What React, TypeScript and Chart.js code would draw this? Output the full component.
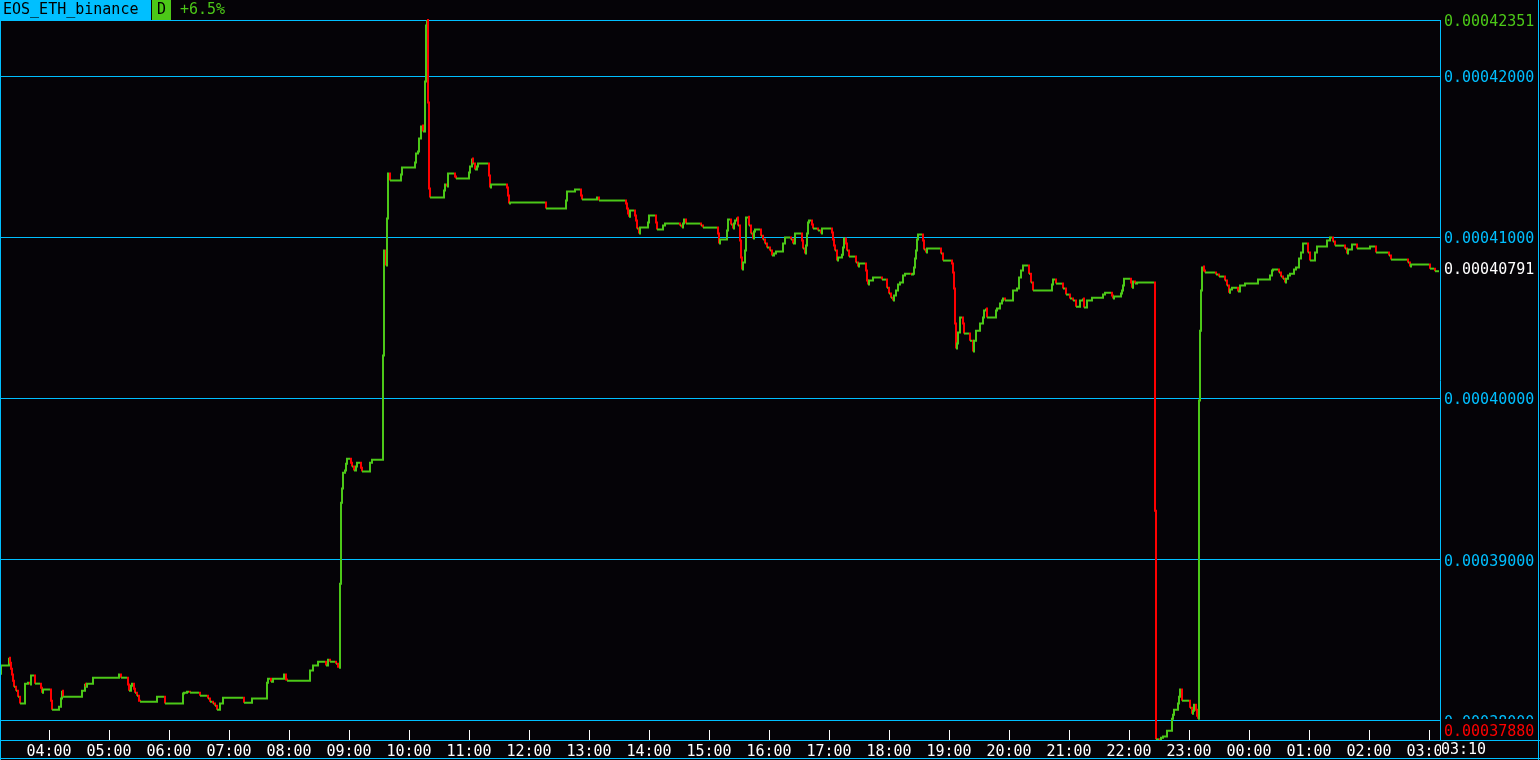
import { useEffect, useRef } from 'react';
import { Chart, registerables } from 'chart.js';

Chart.register(...registerables);

// ---- data -----------------------------------------------------------------
const symbol = 'EOS_ETH_binance';
const timeframe = 'D';
// minute index 0 = 03:11 (one-minute steps, 24h window)
const startMinuteOfDay = 3 * 60 + 11;

// [minute index, price] at each price change
const pricesEarly: [number, number][] = [
  [0, 0.00038292], [1, 0.00038342], [9, 0.00038391], [10, 0.0003836], [11, 0.00038323],
  [12, 0.00038286], [13, 0.00038248], [14, 0.00038211], [16, 0.00038186], [18, 0.00038149],
  [20, 0.00038106], [25, 0.0003823], [28, 0.00038236], [30, 0.00038224], [31, 0.0003828],
  [35, 0.0003823], [41, 0.00038205], [42, 0.00038174], [43, 0.00038193], [51, 0.00038124],
  [52, 0.00038068], [59, 0.00038087], [61, 0.00038137], [62, 0.00038186], [63, 0.00038149],
  [82, 0.00038186], [85, 0.0003823], [86, 0.00038211], [87, 0.0003823], [93, 0.00038267],
  [119, 0.00038286], [121, 0.00038267], [128, 0.00038224], [129, 0.00038186], [131, 0.00038217],
  [132, 0.0003823], [134, 0.00038199], [135, 0.00038174], [137, 0.00038155], [139, 0.00038124],
  [140, 0.00038118], [157, 0.00038149], [165, 0.00038106], [183, 0.00038168], [184, 0.00038174],
  [187, 0.0003818], [190, 0.00038174], [200, 0.00038155], [208, 0.00038137], [210, 0.00038118],
  [213, 0.00038106], [215, 0.00038093], [217, 0.00038068], [220, 0.00038106], [223, 0.00038143],
  [244, 0.00038112], [252, 0.00038137], [267, 0.00038236], [268, 0.00038261], [271, 0.00038242],
  [273, 0.00038261], [284, 0.00038286], [286, 0.00038255], [287, 0.00038248], [310, 0.00038311],
  [313, 0.00038342], [318, 0.00038366], [326, 0.00038342], [328, 0.00038379], [330, 0.00038366],
  [336, 0.00038354], [338, 0.00038335], [339, 0.00038329],
];

const pricesRally: [number, number][] = [
  [340, 0.00038851], [341, 0.00039354], [342, 0.00039441], [343, 0.0003954], [345, 0.00039553],
  [346, 0.00039596], [347, 0.00039627], [351, 0.00039602], [352, 0.00039578], [354, 0.00039553],
  [356, 0.00039578], [357, 0.00039602], [361, 0.00039571], [362, 0.00039547], [370, 0.00039602],
  [372, 0.00039621], [383, 0.00040267], [384, 0.00040919], [386, 0.00040826], [387, 0.00041118],
  [388, 0.00041398], [390, 0.00041354], [401, 0.00041391], [402, 0.00041435], [415, 0.00041466],
  [416, 0.00041522], [418, 0.00041534], [419, 0.00041615], [421, 0.0004169], [422, 0.00041696],
  [423, 0.00041658], [425, 0.00041969], [426, 0.00042317], [427, 0.00042351], [428, 0.00041839],
  [429, 0.00041304], [430, 0.00041249], [444, 0.00041292], [445, 0.00041329], [447, 0.00041317],
  [448, 0.00041398], [455, 0.00041379], [456, 0.00041367], [469, 0.00041404], [470, 0.00041441],
  [472, 0.00041491], [473, 0.0004146], [475, 0.00041422], [477, 0.00041441], [478, 0.0004146],
  [489, 0.00041385], [490, 0.00041311], [491, 0.00041329], [507, 0.00041311], [508, 0.00041261],
  [509, 0.00041211], [510, 0.00041217],
];

const pricesMidday: [number, number][] = [
  [546, 0.0004118], [566, 0.0004123], [567, 0.00041286], [575, 0.00041298], [581, 0.00041261],
  [582, 0.00041236], [597, 0.00041249], [599, 0.0004123], [626, 0.00041211], [627, 0.0004118],
  [628, 0.00041149], [629, 0.0004113], [630, 0.00041168], [635, 0.00041137], [636, 0.00041106],
  [637, 0.00041056], [639, 0.00041025], [640, 0.00041062], [648, 0.00041093], [649, 0.00041137],
  [656, 0.00041093], [657, 0.0004105], [663, 0.00041075], [665, 0.00041087], [680, 0.00041075],
  [682, 0.00041062], [683, 0.00041087], [684, 0.00041112], [686, 0.00041087], [701, 0.00041075],
  [703, 0.00041062], [718, 0.00041025], [719, 0.00040963], [720, 0.00040988], [727, 0.00041044],
  [728, 0.00041112], [731, 0.00041081], [733, 0.00041056], [734, 0.00041087], [735, 0.00041106],
  [737, 0.00041124], [738, 0.00041075], [740, 0.00040981], [741, 0.00040876], [742, 0.00040801],
  [743, 0.00040845], [745, 0.00040919], [746, 0.00041124], [748, 0.0004113], [749, 0.00041075],
  [751, 0.00041025], [753, 0.00040994], [754, 0.00041037], [755, 0.0004105], [761, 0.00041012],
  [763, 0.00040988], [765, 0.00040963], [767, 0.00040938], [770, 0.00040919], [772, 0.00040888],
  [774, 0.00040901], [776, 0.00040913], [783, 0.00040963], [785, 0.00041], [791, 0.00040988],
  [793, 0.00040963], [795, 0.00041025], [802, 0.00040981], [803, 0.00040932], [805, 0.00040901],
  [806, 0.0004095], [807, 0.00041025], [808, 0.00041093], [809, 0.00041106], [812, 0.00041081],
  [813, 0.00041056], [818, 0.00041044], [821, 0.00041025], [822, 0.00041056], [832, 0.00041031],
  [833, 0.00040988], [834, 0.0004095], [835, 0.00040919], [837, 0.00040857], [838, 0.00040876],
  [842, 0.00040894], [843, 0.00040938], [844, 0.00040994], [846, 0.00040963], [847, 0.00040919],
  [849, 0.00040882], [856, 0.00040845], [858, 0.0004082], [859, 0.00040839], [866, 0.00040795],
  [867, 0.00040733], [868, 0.00040708], [869, 0.00040733], [873, 0.00040752], [882, 0.00040739],
  [887, 0.00040689], [889, 0.00040652], [891, 0.00040627], [893, 0.00040609], [894, 0.0004064],
  [896, 0.00040671], [898, 0.00040708], [900, 0.00040721], [903, 0.00040764], [905, 0.00040776],
  [911, 0.0004077], [913, 0.00040776], [914, 0.00040814], [915, 0.0004087], [916, 0.00040919],
  [917, 0.00040988], [918, 0.00041019], [923, 0.00040981], [924, 0.00040926], [926, 0.00040907],
  [927, 0.00040932], [941, 0.00040901], [943, 0.00040857],
];

const pricesEvening: [number, number][] = [
  [952, 0.00040839], [953, 0.00040783], [954, 0.00040683], [955, 0.00040466], [956, 0.00040311],
  [957, 0.00040342], [958, 0.0004041], [960, 0.00040503], [963, 0.00040466], [964, 0.00040404],
  [970, 0.0004036], [973, 0.00040292], [974, 0.0004036], [976, 0.00040422], [980, 0.00040466],
  [983, 0.00040503], [984, 0.00040547], [986, 0.00040559], [987, 0.00040503], [996, 0.00040547],
  [997, 0.00040559], [1000, 0.0004059], [1002, 0.00040609], [1003, 0.00040621], [1005, 0.00040609],
  [1013, 0.00040671], [1017, 0.00040683], [1019, 0.00040752], [1021, 0.00040795], [1023, 0.00040826],
  [1029, 0.00040776], [1031, 0.00040721], [1033, 0.00040671], [1052, 0.00040708], [1053, 0.00040739],
  [1056, 0.00040714], [1063, 0.00040683], [1066, 0.00040646], [1070, 0.00040621], [1073, 0.00040609],
  [1076, 0.00040571], [1080, 0.00040609], [1083, 0.00040621], [1084, 0.00040565], [1087, 0.00040609],
  [1092, 0.00040627], [1103, 0.00040646], [1105, 0.00040658], [1112, 0.0004064], [1113, 0.00040621],
  [1114, 0.00040634], [1121, 0.00040652], [1122, 0.00040671], [1123, 0.00040702], [1124, 0.00040745],
  [1131, 0.00040721], [1132, 0.00040689], [1133, 0.00040727], [1135, 0.00040714], [1137, 0.00040721],
];

const pricesCrash: [number, number][] = [
  [1155, 0.00039304], [1156, 0.00037884], [1160, 0.0003788], [1161, 0.00037894], [1163, 0.00037901],
  [1167, 0.00037938], [1172, 0.00038012], [1173, 0.00038037], [1174, 0.00038068], [1178, 0.00038106],
  [1179, 0.00038149], [1180, 0.00038193], [1182, 0.00038124], [1190, 0.00038081], [1192, 0.00038043],
  [1193, 0.00038062], [1194, 0.00038099], [1196, 0.00038068], [1197, 0.00038031], [1198, 0.00038012],
  [1199, 0.00039988], [1200, 0.00040422], [1201, 0.00040671], [1202, 0.00040814], [1203, 0.0004082],
];

const pricesNight: [number, number][] = [
  [1204, 0.00040795], [1205, 0.00040783], [1216, 0.0004077], [1219, 0.00040758], [1225, 0.00040733],
  [1227, 0.00040702], [1229, 0.00040658], [1230, 0.00040677], [1232, 0.00040689], [1238, 0.00040665],
  [1240, 0.00040702], [1245, 0.00040714], [1258, 0.00040739], [1270, 0.00040764], [1272, 0.00040795],
  [1273, 0.00040801], [1279, 0.00040783], [1281, 0.00040758], [1283, 0.00040745], [1285, 0.00040721],
  [1286, 0.00040745], [1288, 0.00040764], [1290, 0.00040776], [1294, 0.00040801], [1296, 0.00040814],
  [1299, 0.0004087], [1301, 0.00040907], [1303, 0.00040963], [1308, 0.00040907], [1310, 0.00040857],
  [1315, 0.00040907], [1317, 0.00040944], [1327, 0.00040981], [1330, 0.00041], [1333, 0.00040975],
  [1335, 0.0004095], [1345, 0.00040932], [1347, 0.00040901], [1348, 0.00040926], [1352, 0.00040957],
  [1357, 0.00040932], [1370, 0.00040944], [1376, 0.00040907], [1389, 0.00040888], [1391, 0.00040863],
  [1408, 0.00040845], [1410, 0.0004082], [1411, 0.00040832], [1430, 0.00040807], [1435, 0.00040791],
  [1439, 0.00040791],
];

const yGridValues = [0.00038, 0.00039, 0.0004, 0.00041, 0.00042];
const xTickLabels = [
  '04:00', '05:00', '06:00', '07:00', '08:00', '09:00', '10:00', '11:00', '12:00', '13:00',
  '14:00', '15:00', '16:00', '17:00', '18:00', '19:00', '20:00', '21:00', '22:00', '23:00',
  '00:00', '01:00', '02:00', '03:00',
];

// ---- styles ---------------------------------------------------------------
const BG = '#050307';
const CYAN = '#00bfff';
const GREEN = '#4cc818';
const RED = '#ff0000';
const WHITE = '#ffffff';
const FONT_FAMILY = '"DejaVu Sans Mono", monospace';
const FONT_SIZE = 15;

const allChanges = [
  ...pricesEarly, ...pricesRally, ...pricesMidday, ...pricesEvening, ...pricesCrash, ...pricesNight,
];

function fmtTime(minuteIndex: number) {
  const t = (((startMinuteOfDay + minuteIndex) % 1440) + 1440) % 1440;
  const h = Math.floor(t / 60);
  const m = t % 60;
  return `${String(h).padStart(2, '0')}:${String(m).padStart(2, '0')}`;
}

function labelToIndex(label: string) {
  const [h, m] = label.split(':').map(Number);
  return (((h * 60 + m - startMinuteOfDay) % 1440) + 1440) % 1440;
}

export default function App() {
  const ref = useRef<HTMLCanvasElement | null>(null);

  useEffect(() => {
    if (!ref.current) return;

    // one-minute step series: the price is held until the next change
    const points: { x: number; y: number }[] = [];
    allChanges.forEach(([t, p], i) => {
      if (i > 0) {
        const [pt, pp] = allChanges[i - 1];
        if (t - 1 > pt) points.push({ x: t - 1, y: pp });
      }
      points.push({ x: t, y: p });
    });

    const values = allChanges.map((d) => d[1]);
    const maxP = Math.max(...values);
    const minP = Math.min(...values);
    const firstP = values[0];
    const lastP = values[values.length - 1];
    const lastT = allChanges[allChanges.length - 1][0];
    const changePct = ((lastP / firstP - 1) * 100).toFixed(1);
    const font = `${FONT_SIZE}px ${FONT_FAMILY}`;

    const framePlugin = {
      id: 'frame',
      beforeDraw(chart: any) {
        const { ctx, width, height } = chart;
        ctx.save();
        ctx.fillStyle = BG;
        ctx.fillRect(0, 0, width, height);
        ctx.restore();
      },
      beforeDatasetsDraw(chart: any) {
        const { ctx, chartArea } = chart;
        const y = chart.scales.y;
        ctx.save();
        ctx.fillStyle = CYAN;
        ctx.fillRect(0, Math.round(y.getPixelForValue(maxP)), chartArea.right, 1);
        ctx.restore();
      },
      afterDraw(chart: any) {
        const { ctx, chartArea, width, height } = chart;
        const xs = chart.scales.x;
        const ys = chart.scales.y;
        ctx.save();
        // frame lines
        ctx.fillStyle = CYAN;
        ctx.fillRect(0, 0, 1, height);
        ctx.fillRect(width - 2, 0, 1, height);
        ctx.fillRect(0, Math.round(chartArea.bottom), width, 1);
        ctx.fillRect(0, height - 2, width, 1);
        // inner hour ticks
        ctx.fillStyle = WHITE;
        xs.ticks.forEach((t: any) => {
          const px = Math.round(xs.getPixelForValue(t.value));
          ctx.fillRect(px, Math.round(chartArea.bottom) - 10, 1, 10);
        });
        ctx.font = font;
        ctx.textBaseline = 'middle';
        ctx.textAlign = 'left';
        const lx = chartArea.right + 4;
        const drawTag = (value: number, color: string, cy: number) => {
          ctx.fillStyle = BG;
          ctx.fillRect(chartArea.right + 1, cy - 7, width - chartArea.right - 3, 15);
          ctx.fillStyle = color;
          ctx.fillText(value.toFixed(8), lx, cy + 1);
        };
        drawTag(maxP, GREEN, Math.max(ys.getPixelForValue(maxP), chartArea.top) + 1);
        drawTag(lastP, WHITE, ys.getPixelForValue(lastP) - 2);
        const minY = Math.min(ys.getPixelForValue(minP), chartArea.bottom - 9);
        ctx.fillStyle = BG;
        ctx.fillRect(chartArea.right + 1, minY - 12, width - chartArea.right - 3, 21);
        ctx.fillStyle = RED;
        ctx.fillText(minP.toFixed(8), lx, minY + 1);
        // current time tag
        ctx.fillStyle = BG;
        ctx.fillRect(chartArea.right + 1, chartArea.bottom + 1, 50, height - chartArea.bottom - 3);
        ctx.fillStyle = WHITE;
        ctx.fillText(fmtTime(lastT), chartArea.right + 1, chartArea.bottom + 10);
        // header
        ctx.fillStyle = CYAN;
        ctx.fillRect(0, 0, 151, 20);
        ctx.fillStyle = '#000000';
        ctx.fillText(symbol, 3, 10);
        ctx.fillStyle = GREEN;
        ctx.fillRect(152, 0, 19, 20);
        ctx.fillStyle = '#000000';
        ctx.fillText(timeframe, 157, 10);
        ctx.fillStyle = GREEN;
        ctx.fillText(`${Number(changePct) >= 0 ? '+' : ''}${changePct}%`, 180, 10);
        ctx.restore();
      },
    };

    const chart = new Chart(ref.current, {
      type: 'line',
      data: {
        datasets: [
          {
            data: points,
            stepped: 'before',
            borderWidth: 2,
            pointRadius: 0,
            borderColor: GREEN,
            borderJoinStyle: 'miter',
            clip: 3,
            segment: {
              borderColor: (c: any) => (c.p1.parsed.y < c.p0.parsed.y ? RED : GREEN),
            },
          } as any,
        ],
      },
      options: {
        responsive: false,
        animation: false,
        devicePixelRatio: 1,
        parsing: false,
        normalized: true,
        layout: { padding: { top: 20, left: 0, right: 0, bottom: 0 } },
        plugins: { legend: { display: false }, tooltip: { enabled: false } },
        events: [],
        scales: {
          x: {
            type: 'linear',
            min: 0,
            max: 1440,
            position: 'bottom',
            afterFit: (s: any) => {
              s.height = 20;
            },
            afterBuildTicks: (s: any) => {
              s.ticks = xTickLabels.map((l) => ({ value: labelToIndex(l) }));
            },
            ticks: {
              autoSkip: false,
              maxRotation: 0,
              minRotation: 0,
              color: WHITE,
              padding: 3,
              font: { family: FONT_FAMILY, size: FONT_SIZE },
              callback: (v: any) => fmtTime(Number(v)),
            },
            grid: { display: false, drawTicks: false },
            border: { display: false },
          },
          y: {
            type: 'linear',
            position: 'right',
            min: minP,
            max: maxP,
            afterFit: (s: any) => {
              s.width = 100;
            },
            afterBuildTicks: (s: any) => {
              s.ticks = yGridValues.map((v) => ({ value: v }));
            },
            ticks: {
              autoSkip: false,
              color: CYAN,
              padding: 4,
              labelOffset: 2,
              font: { family: FONT_FAMILY, size: FONT_SIZE },
              callback: (v: any) => Number(v).toFixed(8),
            },
            grid: { color: CYAN, lineWidth: 1, drawTicks: false },
            border: { display: true, color: CYAN, width: 1 },
          },
        },
      },
      plugins: [framePlugin],
    } as any);

    return () => chart.destroy();
  }, []);

  return (
    <div style={{ position: 'fixed', left: 0, top: 0, width: 1540, height: 760, background: BG }}>
      <canvas ref={ref} width={1540} height={760} style={{ display: 'block' }} />
    </div>
  );
}
